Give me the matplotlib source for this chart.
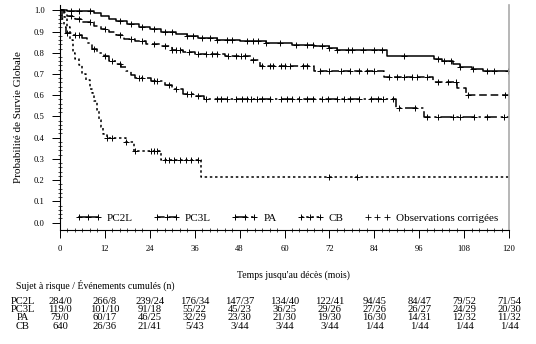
import numpy as np
import matplotlib
matplotlib.use("Agg")
import matplotlib.pyplot as plt
from matplotlib.lines import Line2D
from matplotlib import transforms

plt.rcParams['font.family'] = ['Liberation Serif', 'DejaVu Serif']

# Kaplan-Meier steps (month, survival)
pc2l_t = [0, 2, 9, 11, 13, 15, 18, 21, 24, 27, 31, 34, 37, 42, 48, 55, 62, 68, 72, 74, 87.5, 100, 102, 105, 107, 110, 113]
pc2l_s = [1.0, 0.995, 0.985, 0.975, 0.96, 0.948, 0.935, 0.922, 0.912, 0.90, 0.888, 0.878, 0.87, 0.862, 0.855, 0.846, 0.838, 0.83, 0.822, 0.814, 0.783, 0.77, 0.759, 0.748, 0.735, 0.725, 0.712]
pc3l_t = [0, 1, 2, 4, 6, 9, 11, 13, 15, 17, 20, 23, 27, 30, 33, 36, 44, 51, 53.5, 68, 86.5, 99.6, 106, 108.5]
pc3l_s = [1.0, 0.99, 0.975, 0.96, 0.945, 0.925, 0.91, 0.90, 0.885, 0.865, 0.855, 0.842, 0.83, 0.815, 0.805, 0.795, 0.785, 0.768, 0.738, 0.714, 0.688, 0.661, 0.632, 0.60]
pa_t = [0, 0.5, 1, 1.5, 3.5, 6, 7.3, 8.5, 10, 11.8, 13, 15, 16.4, 17.7, 19, 20, 24.4, 28, 29.8, 33, 36, 38.5, 89.7, 97.2]
pa_s = [1.0, 0.96, 0.92, 0.895, 0.885, 0.87, 0.846, 0.82, 0.80, 0.783, 0.76, 0.745, 0.735, 0.712, 0.695, 0.68, 0.665, 0.649, 0.627, 0.605, 0.595, 0.582, 0.542, 0.499]
cb_t = [0, 1, 2, 2.8, 3.5, 4, 5, 6, 7, 8, 8.6, 9.2, 10, 10.5, 11, 11.5, 12.5, 17.7, 19.9, 27, 37.8]
cb_s = [1.0, 0.97, 0.92, 0.86, 0.80, 0.77, 0.74, 0.70, 0.67, 0.63, 0.61, 0.575, 0.53, 0.485, 0.45, 0.415, 0.398, 0.38, 0.335, 0.294, 0.215]

# censored observations (month)
pc2l_c = [3, 5, 8, 16, 19, 22, 25, 28, 30, 34, 35.5, 38, 40, 42, 44.5, 46, 50, 51.5, 53, 55, 58.8, 63, 66, 67.7,
          70, 72, 74, 77, 78, 81, 84, 86, 92, 101, 102.5, 104.5, 107, 110.5, 114, 116, 119.7]
pc3l_c = [3, 5, 8, 12, 16, 19, 22, 25, 28, 30, 31, 32, 34.6, 37, 39, 40.5, 42, 45, 47, 48.5, 49.4, 51.5, 54, 56,
          57, 59, 60, 61.5, 65, 66, 69.5, 72, 75, 77.6, 80, 82, 84, 88, 90, 92, 94, 95.5, 98, 101, 103.6, 105.8, 109, 119]
pa_c = [2, 4, 5, 9, 12, 14, 16, 21, 22, 25, 26, 29, 31, 34, 35, 37, 39, 42, 43, 44.6, 47, 48.6, 50, 51, 52.6, 54,
        56, 59, 60.7, 62, 64, 66, 67.7, 70, 71.7, 74, 76, 77.6, 80, 83, 85, 86.4, 89, 90.5, 95, 98, 101, 105, 107,
        110.6, 114, 118.7]
cb_c = [12.6, 14, 17.7, 20, 24.4, 25, 26, 28, 29, 30.6, 32, 33.8, 35, 36.8, 72, 79.5]

# number at risk / cumulative events
risk_times = [0, 12, 24, 36, 48, 60, 72, 84, 96, 108, 120]
risk_pc2l = ["284/0", "266/8", "239/24", "176/34", "147/37", "134/40", "122/41", "94/45", "84/47", "79/52", "71/54"]
risk_pc3l = ["119/0", "101/10", "91/18", "55/22", "45/23", "36/25", "29/26", "27/26", "26/27", "24/29", "20/30"]
risk_pa = ["79/0", "60/17", "46/25", "32/29", "23/30", "21/30", "19/30", "16/30", "14/31", "12/32", "11/32"]
risk_cb = ["640", "26/36", "21/41", "5/43", "3/44", "3/44", "3/44", "1/44", "1/44", "1/44", "1/44"]

groups = [
    ("PC2L", pc2l_t, pc2l_s, pc2l_c, risk_pc2l, "-"),
    ("PC3L", pc3l_t, pc3l_s, pc3l_c, risk_pc3l, (0, (5, 2.5))),
    ("PA", pa_t, pa_s, pa_c, risk_pa, (0, (8, 2.5, 1.5, 2.5))),
    ("CB", cb_t, cb_s, cb_c, risk_cb, (0, (1.6, 1.8))),
]

fig = plt.figure(figsize=(5.36, 3.44), dpi=100)
ax = fig.add_axes([60 / 536, 1 - 230 / 344, 449 / 536, 225 / 344])

handles = []
for name, t, s, c, _, ls in groups:
    ax.step(t + [120], s + [s[-1]], where="post", color="black", lw=1.1, linestyle=ls)
    idx = np.searchsorted(t, c, side="right") - 1
    ax.plot(c, np.array(s)[idx], linestyle="none", marker="+", color="black", ms=4, mew=0.7)
    handles.append(Line2D([], [], color="black", lw=1.1, linestyle=ls, marker="+", ms=4, mew=0.7, label=name))
handles.append(Line2D([], [], color="black", linestyle="none", marker="+", ms=4, mew=0.6,
                      label="Observations corrigées"))

ax.legend(handles=handles, ncol=5, frameon=False, loc="lower left", bbox_to_anchor=(0.02, 0.0),
          fontsize=8, handlelength=2.3, handletextpad=0.5, columnspacing=1.9, numpoints=3,
          borderaxespad=0.2)

ax.set_xlim(0, 120)
ax.set_ylim(-0.035, 1.025)
ax.set_xticks(risk_times)
ax.set_xticks(np.arange(0, 121, 2), minor=True)
ax.set_yticks(np.arange(0, 1.01, 0.1))
ax.set_yticks(np.arange(0, 1.01, 0.02), minor=True)
ax.set_yticklabels([f"{v:.1f}" for v in np.arange(0, 1.01, 0.1)])
ax.tick_params(which="major", direction="out", length=6, width=0.7, labelsize=6.2, pad=5)
ax.tick_params(which="minor", direction="inout", length=2.5, width=0.5)

ax.spines["top"].set_visible(False)
ax.spines["right"].set_color("#aaaaaa")
ax.spines["right"].set_linewidth(1.2)
ax.spines["left"].set_linewidth(0.8)
ax.spines["bottom"].set_linewidth(0.8)

ax.set_ylabel("Probabilité de Survie Globale", fontsize=8)
ax.yaxis.set_label_coords(-0.082, 0.5)
ax.set_xlabel("Temps jusqu'au décès (mois)", fontsize=7)
ax.xaxis.set_label_coords(0.519, -0.178)

# risk table under the plot
fig.text(16 / 536, 1 - 285 / 344, "Sujet à risque / Événements cumulés (n)", fontsize=7, va="center")
tr = transforms.blended_transform_factory(ax.transData, fig.transFigure)
row_y = [1 - 301.5 / 344, 1 - 309.8 / 344, 1 - 318 / 344, 1 - 326.3 / 344]
for (name, _, _, _, risk, _), y in zip(groups, row_y):
    fig.text(23 / 536, y, name, fontsize=7.6, ha="center", va="center")
    for tm, lab in zip(risk_times, risk):
        fig.text(tm, y, lab, fontsize=7.6, ha="center", va="center", transform=tr)

fig.savefig("out.png", dpi=100)
